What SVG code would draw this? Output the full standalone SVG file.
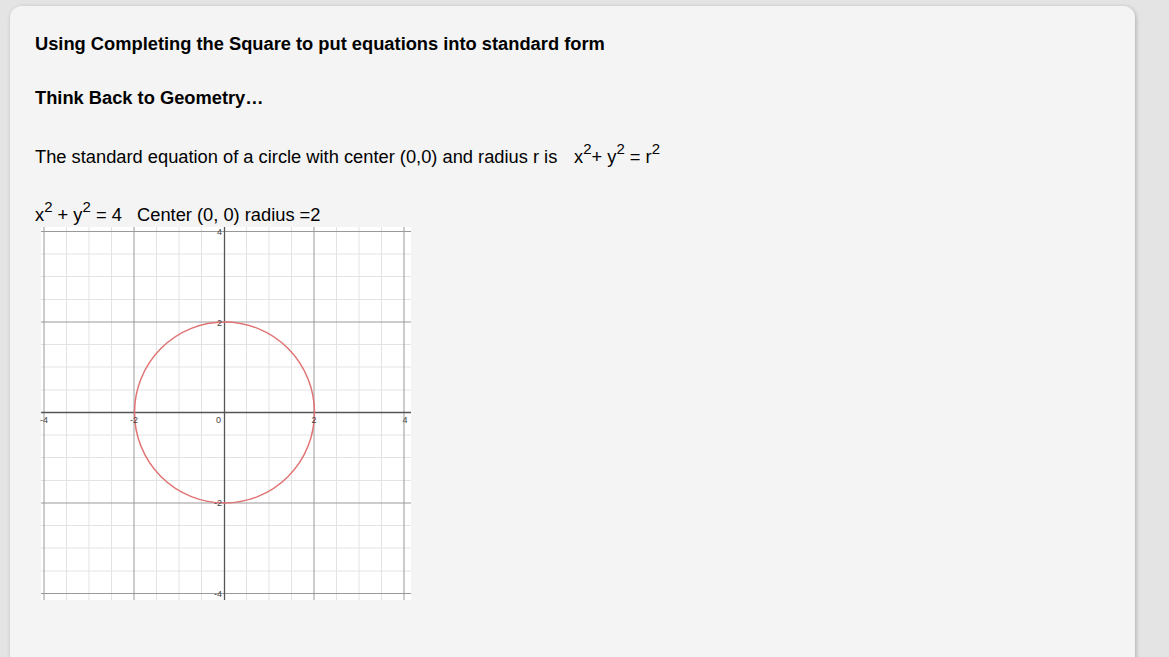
<svg xmlns="http://www.w3.org/2000/svg" width="1169" height="657" viewBox="0 0 1169 657">
<defs>
<filter id="sh" x="-5%" y="-5%" width="110%" height="110%">
<feGaussianBlur in="SourceAlpha" stdDeviation="2"/>
<feOffset dx="1" dy="1"/>
<feComponentTransfer><feFuncA type="linear" slope="0.25"/></feComponentTransfer>
<feMerge><feMergeNode/><feMergeNode in="SourceGraphic"/></feMerge>
</filter>
</defs>
<style>
.t{font-family:"Liberation Sans",Arial,sans-serif;fill:#000}
.b{font-weight:bold;font-size:18.3px}
.r{font-size:18.3px}
.sup{font-size:15px}
.minor{stroke:#e3e3e3;stroke-width:1}
.major{stroke:#999;stroke-width:1}
.axis{stroke:#555;stroke-width:1.3}
.tick{font-family:"Liberation Sans",Arial,sans-serif;font-size:9px;fill:#444}
</style>
<rect width="1169" height="657" fill="#e4e4e4"/>
<rect x="10" y="6" width="1125" height="680" rx="12" fill="#f4f4f4" filter="url(#sh)"/>

<g id="title">
<text class="t b" x="35" y="50">Using Completing the Square to put equations into standard form</text>
</g>
<g id="subtitle">
<text class="t b" x="35" y="104">Think Back to Geometry…</text>
</g>
<g id="equation-line">
<text class="t r" x="35" y="163">The standard equation of a circle with center (0,0) and radius r is</text>
<text class="t r" x="574" y="163">x<tspan class="sup" dy="-9">2</tspan><tspan dy="9">+ y</tspan><tspan class="sup" dy="-9">2</tspan><tspan dy="9"> = r</tspan><tspan class="sup" dy="-9">2</tspan></text>
</g>
<g id="example-line">
<text class="t r" x="35" y="221" xml:space="preserve">x<tspan class="sup" dy="-9">2</tspan><tspan dy="9"> + y</tspan><tspan class="sup" dy="-9">2</tspan><tspan dy="9"> = 4   Center (0, 0) radius =2</tspan></text>
</g>

<g id="graph">
<rect x="41" y="227" width="370" height="373" fill="#fff"/>
<g class="minor">
<path d="M66.5 227V600M89 227V600M111.5 227V600M156.5 227V600M179 227V600M201.5 227V600M246.5 227V600M269 227V600M291.5 227V600M336.5 227V600M359 227V600M381.5 227V600"/>
<path d="M41 254H411M41 276.5H411M41 299.5H411M41 344.5H411M41 367H411M41 390H411M41 435H411M41 457.5H411M41 480.5H411M41 525.5H411M41 548H411M41 571H411"/>
</g>
<g class="major">
<path d="M44 227V600M134 227V600M314 227V600M404 227V600"/>
<path d="M41 231.5H411M41 322H411M41 503H411M41 593.5H411"/>
</g>
<g class="axis">
<path d="M41 412.5H411"/>
<path d="M224.5 227V600"/>
</g>
<ellipse cx="224.5" cy="412.5" rx="90" ry="90.5" fill="none" stroke="#e07474" stroke-width="1.5"/>
<g class="tick">
<text x="44" y="423" text-anchor="middle">-4</text>
<text x="134" y="423" text-anchor="middle">-2</text>
<text x="221" y="423" text-anchor="end">0</text>
<text x="314" y="423" text-anchor="middle">2</text>
<text x="405" y="423" text-anchor="middle">4</text>
<text x="222" y="235" text-anchor="end">4</text>
<text x="222" y="325.5" text-anchor="end">2</text>
<text x="222" y="506" text-anchor="end">-2</text>
<text x="222" y="597" text-anchor="end">-4</text>
</g>
</g>
</svg>
